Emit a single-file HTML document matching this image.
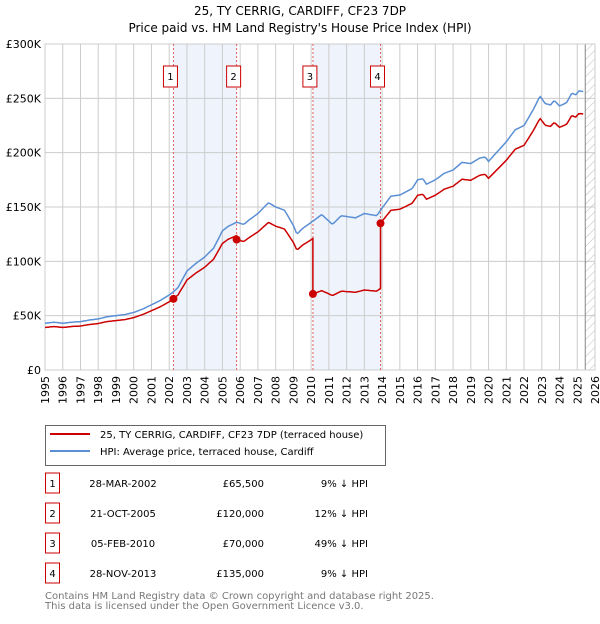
<!DOCTYPE html>
<html><head><meta charset="utf-8">
<style>
body{margin:0;background:#fff;font-family:"DejaVu Sans","Liberation Sans",sans-serif;}
svg text{font-family:"DejaVu Sans","Liberation Sans",sans-serif;}
</style></head>
<body>
<svg id="chart" width="600" height="620" viewBox="0 0 600 620">
<defs>
<pattern id="hatch" width="6" height="6" patternUnits="userSpaceOnUse" patternTransform="rotate(45)">
<line x1="0" y1="0" x2="0" y2="6" stroke="#bbb" stroke-width="1"/>
</pattern>
</defs>
<text x="300" y="15" text-anchor="middle" font-size="12">25, TY CERRIG, CARDIFF, CF23 7DP</text>
<text x="300" y="32" text-anchor="middle" font-size="12">Price paid vs. HM Land Registry's House Price Index (HPI)</text>
<g id="plot"></g>
<g>
<rect x="45.5" y="425.5" width="340" height="40" fill="#fff" stroke="#666"/>
<line x1="50" y1="434" x2="90" y2="434" stroke="#cc0000" stroke-width="2"/>
<text x="100" y="438" font-size="10">25, TY CERRIG, CARDIFF, CF23 7DP (terraced house)</text>
<line x1="50" y1="451" x2="90" y2="451" stroke="#5b8fd4" stroke-width="2"/>
<text x="100" y="455" font-size="10">HPI: Average price, terraced house, Cardiff</text>
</g>
<g id="table" font-size="10"></g>
<text x="45" y="599" font-size="10" fill="#777">Contains HM Land Registry data © Crown copyright and database right 2025.</text>
<text x="45" y="609" font-size="10" fill="#777">This data is licensed under the Open Government Licence v3.0.</text>
</svg>
<script>
const hpiYears=[1995,1995.5,1996,1996.5,1997,1997.5,1998,1998.5,1999,1999.5,2000,2000.5,2001,2001.5,2002,2002.24,2002.5,2003,2003.5,2004,2004.5,2005,2005.3,2005.8,2006.2,2006.5,2007,2007.6,2008,2008.5,2009,2009.2,2009.5,2010.1,2010.6,2011.2,2011.7,2012.5,2013,2013.7,2014,2014.5,2015,2015.7,2016,2016.3,2016.5,2017,2017.5,2018,2018.5,2019,2019.5,2019.8,2020,2020.5,2021,2021.5,2022,2022.5,2022.9,2023.2,2023.5,2023.7,2024,2024.4,2024.7,2024.9,2025.1,2025.4];
const hpiValues=[43,44,43,44,44.5,46,47,49,50,51,53,56,60,64,69,72,76,91,98,104,112,128,132,136,134,138,144,154,150,147,133,125,130,137,143,134,142,140,144,142,149,160,161,167,175,176,171,175,181,184,191,190,195,196,192,201,210,221,225,239,252,245,244,248,243,246,255,253,257,256];
const saleDates=[2002.24,2005.8,2010.1,2013.91];
const salePrices=[65500,120000,70000,135000];
const saleLabels=["1","2","3","4"];
const saleDateText=["28-MAR-2002","21-OCT-2005","05-FEB-2010","28-NOV-2013"];
const salePriceText=["£65,500","£120,000","£70,000","£135,000"];
const saleHpiText=["9% ↓ HPI","12% ↓ HPI","49% ↓ HPI","9% ↓ HPI"];
const yTicks=[0,50000,100000,150000,200000,250000,300000];
const yTickLabels=["£0","£50K","£100K","£150K","£200K","£250K","£300K"];
const xTicks=[1995,1996,1997,1998,1999,2000,2001,2002,2003,2004,2005,2006,2007,2008,2009,2010,2011,2012,2013,2014,2015,2016,2017,2018,2019,2020,2021,2022,2023,2024,2025,2026];

const X0=45,X1=595,Y0=370,Y1=44;
const xs=t=>X0+(t-1995)/(2026-1995)*(X1-X0);
const ys=v=>Y0-v/300000*(Y0-Y1);
const NS="http://www.w3.org/2000/svg";
const plot=document.getElementById('plot');
function mk(tag,attrs,parent){const e=document.createElementNS(NS,tag);for(const k in attrs)e.setAttribute(k,attrs[k]);(parent||plot).appendChild(e);return e;}
function hpiAt(t){
  if(t<=hpiYears[0])return hpiValues[0]*1000;
  for(let i=1;i<hpiYears.length;i++){if(t<=hpiYears[i]){const f=(t-hpiYears[i-1])/(hpiYears[i]-hpiYears[i-1]);return 1000*(hpiValues[i-1]+f*(hpiValues[i]-hpiValues[i-1]));}}
  return hpiValues[hpiValues.length-1]*1000;
}
for(let i=0;i<saleDates.length;i+=2){
  const r=mk('rect',{x:xs(saleDates[i]),y:Y1,width:xs(saleDates[i+1])-xs(saleDates[i]),height:Y0-Y1,fill:'#eef3fc'});
  
  
}
xTicks.forEach((t,i)=>{
  const l=mk('line',{x1:xs(t),x2:xs(t),y1:Y1,y2:Y0,stroke:'#ccc','stroke-width':1});
  
  
  const tx=mk('text',{x:0,y:0,'font-size':11,'text-anchor':'end',transform:`translate(${xs(t)+4},${Y0+6}) rotate(-90)`});
  tx.textContent=t;
  
  
});
yTicks.forEach((v,i)=>{
  const l=mk('line',{x1:X0,x2:X1,y1:ys(v),y2:ys(v),stroke:'#ccc','stroke-width':1});
  
  
  const tx=mk('text',{x:X0-4,y:ys(v)+4,'font-size':11,'text-anchor':'end'});
  tx.textContent=yTickLabels[i];
  
  
});
const hx=xs(2025.45);
const hr=mk('rect',{x:hx,y:Y1,width:X1-hx,height:Y0-Y1,fill:'url(#hatch)'});


mk('line',{x1:hx,x2:hx,y1:Y1,y2:Y0,stroke:'#888','stroke-width':1});
mk('rect',{x:X0,y:Y1,width:X1-X0,height:Y0-Y1,fill:'none',stroke:'#ccc'});
saleDates.forEach((d,i)=>{
  const l=mk('line',{x1:xs(d),x2:xs(d),y1:Y1,y2:Y0,stroke:'#e06060','stroke-width':1,'stroke-dasharray':'2,2'});
  
  
  const bx=xs(d)-3;
  const r=mk('rect',{x:bx-7,y:66,width:14,height:21,fill:'#fff',stroke:'#cc0000'});
  
  
  const t=mk('text',{x:bx,y:80,'font-size':10,'text-anchor':'middle'});
  t.textContent=saleLabels[i];
  
  
});
const tEnd=2025.4;
let hp=[];for(let t=1995;t<=tEnd+1e-9;t+=1/12)hp.push(xs(t).toFixed(1)+','+ys(hpiAt(t)).toFixed(1));
const hl=mk('polyline',{points:hp.join(' '),fill:'none',stroke:'#5b8fd4','stroke-width':1.5});


function priceAt(t){
  let k=-1;for(let i=0;i<saleDates.length;i++)if(t>=saleDates[i])k=i;
  const j=k<0?0:k;
  return salePrices[j]*hpiAt(t)/hpiAt(saleDates[j]);
}
let pp=[];
let ts=[];for(let t=1995;t<=tEnd+1e-9;t+=1/12)ts.push(t);
saleDates.forEach(d=>{ts.push(d-1e-4);ts.push(d);});
ts.sort((a,b)=>a-b);
ts.forEach(t=>pp.push(xs(t).toFixed(1)+','+ys(priceAt(t)).toFixed(1)));
const pl=mk('polyline',{points:pp.join(' '),fill:'none',stroke:'#cc0000','stroke-width':1.5});


saleDates.forEach((d,i)=>{
  const c=mk('circle',{cx:xs(d),cy:ys(salePrices[i]),r:4,fill:'#cc0000'});
  
  
});
const tb=document.getElementById('table');
saleDates.forEach((d,i)=>{
  const y=483+i*30;
  const r=mk('rect',{x:45.5,y:y-10,width:14,height:20,fill:'#fff',stroke:'#cc0000'},tb);
  
  
  const a=mk('text',{x:52.5,y:y+4,'text-anchor':'middle'},tb);a.textContent=saleLabels[i];
  
  
  const b=mk('text',{x:123,y:y+4,'text-anchor':'middle'},tb);b.textContent=saleDateText[i];
  
  
  const c=mk('text',{x:264,y:y+4,'text-anchor':'end'},tb);c.textContent=salePriceText[i];
  
  
  const e=mk('text',{x:368,y:y+4,'text-anchor':'end'},tb);e.textContent=saleHpiText[i];
  
  
});
</script>
</body></html>
